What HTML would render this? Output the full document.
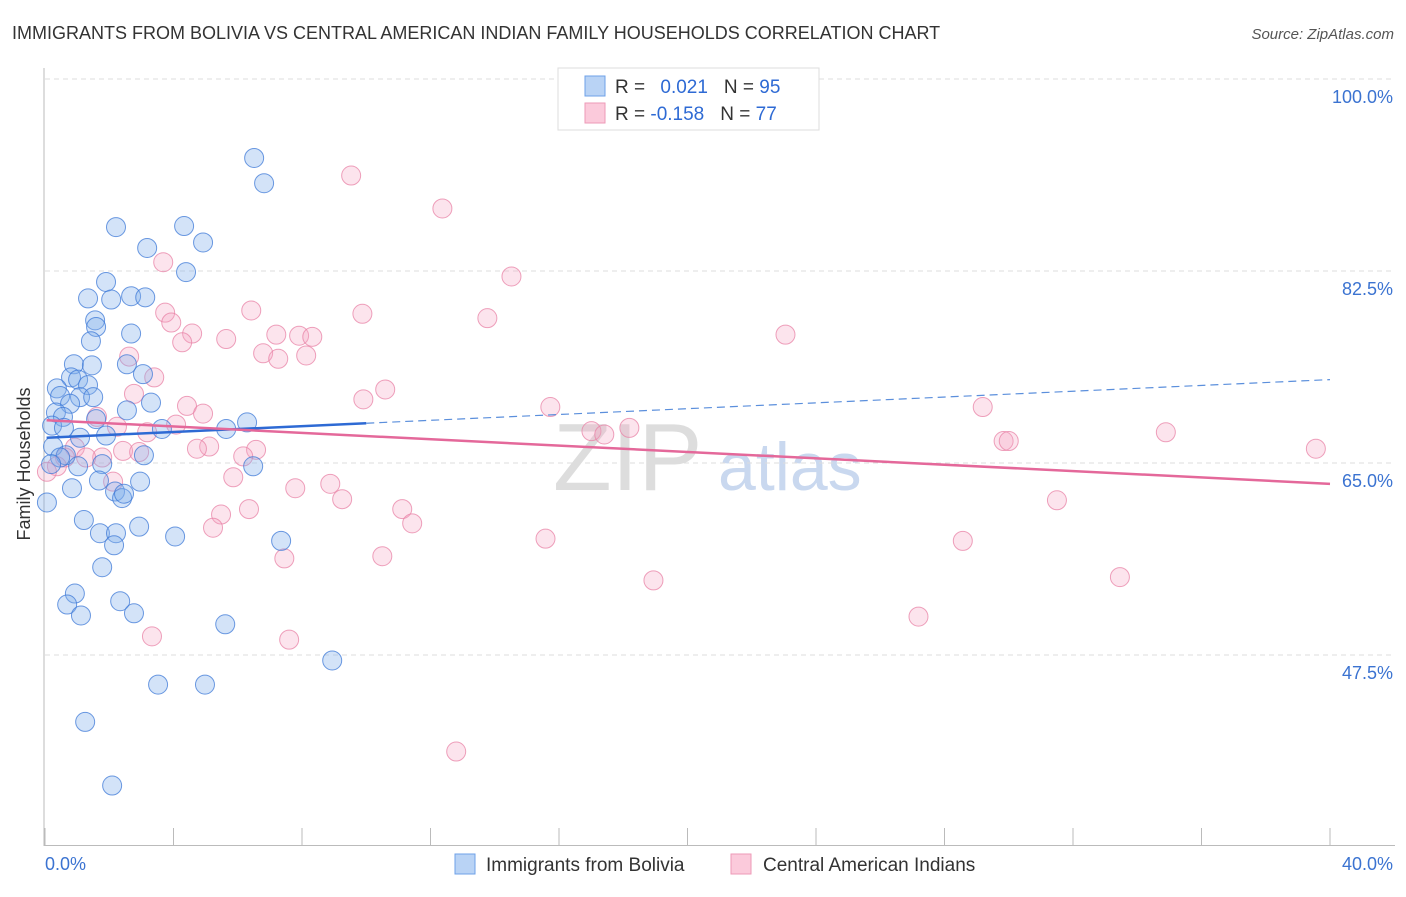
<!DOCTYPE html>
<html><head><meta charset="utf-8"><style>
body{margin:0;background:#fff;font-family:"Liberation Sans",sans-serif;}
svg text{font-family:"Liberation Sans",sans-serif;}
</style></head><body>
<svg id="chart" width="1406" height="892" xmlns="http://www.w3.org/2000/svg">
<text x="12" y="39" font-size="18" fill="#333">IMMIGRANTS FROM BOLIVIA VS CENTRAL AMERICAN INDIAN FAMILY HOUSEHOLDS CORRELATION CHART</text>
<text x="1394" y="39" font-size="15" fill="#555" font-style="italic" text-anchor="end">Source: ZipAtlas.com</text>
<g>
<text x="553" y="490" font-size="96" fill="#ddd" font-family="Liberation Serif">ZIP</text>
<text x="718" y="490" font-size="68" fill="#c9d8ef">atlas</text>
</g>
<g id="grid"></g>
<g id="axes"></g>
<g id="marks"></g>
<g>
<rect x="558" y="68" width="261" height="62" fill="#fff" stroke="#ddd"/>
<rect x="585" y="76" width="20" height="20" fill="#b9d3f5" stroke="#6ea0e8"/>
<rect x="585" y="103" width="20" height="20" fill="#fbcadb" stroke="#ee9ab7"/>
<text x="615" y="93" font-size="19" fill="#333">R = <tspan fill="#2e6ad4" dx="10">0.021</tspan><tspan dx="16" fill="#333">N = </tspan><tspan fill="#2e6ad4">95</tspan></text>
<text x="615" y="120" font-size="19" fill="#333">R = <tspan fill="#2e6ad4">-0.158</tspan><tspan dx="16" fill="#333">N = </tspan><tspan fill="#2e6ad4">77</tspan></text>
</g>
<g>
<rect x="455" y="854" width="20" height="20" fill="#b9d3f5" stroke="#6ea0e8"/>
<text x="486" y="871" font-size="19" fill="#333">Immigrants from Bolivia</text>
<rect x="731" y="854" width="20" height="20" fill="#fbcadb" stroke="#ee9ab7"/>
<text x="763" y="871" font-size="19" fill="#333">Central American Indians</text>
</g>
<text x="22" y="456" font-size="18" fill="#333" transform="rotate(-90 30 456)" text-anchor="middle">Family Households</text>
</svg>
<script>
const yTicks=[100,82.5,65,47.5];
const yTickLabels=["100.0%","82.5%","65.0%","47.5%"];
const xTickCount=10;
const xLabels=["0.0%","40.0%"];
const blueX=[6.51,6.82,2.21,4.33,3.18,4.92,4.39,1.90,1.34,2.06,2.68,3.12,1.56,1.59,2.68,1.43,0.90,1.46,2.55,3.05,0.81,1.03,0.37,1.34,0.47,1.09,1.50,0.78,3.30,0.34,0.56,1.59,2.55,0.22,0.59,6.29,5.64,3.64,1.90,1.09,0.25,0.65,0.47,3.08,1.03,1.78,0.19,6.48,1.68,0.84,2.96,2.18,2.40,2.46,0.06,1.21,2.93,1.71,2.21,4.05,7.35,2.15,1.78,0.93,0.69,2.34,2.77,1.12,5.61,8.94,3.52,4.98,1.25,2.09];
const blueY=[92.8,90.5,86.5,86.6,84.6,85.1,82.4,81.5,80.0,79.9,80.2,80.1,78.0,77.4,76.8,76.1,74.0,73.9,74.0,73.1,72.8,72.6,71.8,72.1,71.1,71.0,71.0,70.4,70.5,69.6,69.2,69.0,69.8,68.4,68.2,68.7,68.1,68.1,67.5,67.3,66.5,65.7,65.5,65.7,64.7,64.9,64.9,64.7,63.4,62.7,63.3,62.4,61.8,62.2,61.4,59.8,59.2,58.6,58.6,58.3,57.9,57.5,55.5,53.1,52.1,52.4,51.3,51.1,50.3,47.0,44.8,44.8,41.4,35.6];
const pinkX=[9.53,12.37,3.68,14.52,6.42,9.88,3.74,3.93,13.77,4.58,4.27,5.64,7.20,7.91,8.32,23.05,6.79,8.13,7.26,2.62,3.40,10.59,2.77,9.91,4.42,15.73,29.19,4.92,1.62,4.08,3.18,2.24,17.01,17.41,18.19,34.89,29.84,30.0,0.93,5.11,4.73,2.43,6.57,2.93,39.56,0.62,6.17,1.78,1.28,0.37,0.06,5.86,2.12,8.88,7.79,9.25,31.5,11.12,6.35,5.48,11.43,5.23,15.58,28.57,10.50,7.45,18.94,33.46,27.19,3.33,7.60,12.80];
const pinkY=[91.2,88.2,83.3,82.0,78.9,78.6,78.7,77.8,78.2,76.8,76.0,76.3,76.7,76.6,76.5,76.7,75.0,74.8,74.5,74.7,72.8,71.7,71.3,70.8,70.2,70.1,70.1,69.5,69.2,68.5,67.8,68.3,67.9,67.6,68.2,67.8,67.0,67.0,66.4,66.5,66.3,66.1,66.2,66.0,66.3,65.5,65.6,65.5,65.5,64.7,64.2,63.7,63.3,63.1,62.7,61.7,61.6,60.8,60.8,60.3,59.5,59.1,58.1,57.9,56.5,56.3,54.3,54.6,51.0,49.2,48.9,38.7];
const blueTrend=[67.3,72.6];
const blueSolidEnd=10;
const pinkTrend=[68.9,63.1];
const xScale=v=>45+v*32.125;
const yScale=v=>79+(100-v)*10.971;
const NS="http://www.w3.org/2000/svg";
function mk(t,a,p){const e=document.createElementNS(NS,t);for(const k in a)e.setAttribute(k,a[k]);p.appendChild(e);return e;}
const grid=document.getElementById('grid'),axes=document.getElementById('axes'),marks=document.getElementById('marks');
yTicks.forEach((t,i)=>{
 const y=yScale(t);
 const l=mk('line',{x1:45,x2:1395,y1:y,y2:y,stroke:'#ddd','stroke-dasharray':'5,4'},grid);
 
 
 const tx=mk('text',{x:1393,y:y+24,'font-size':18,fill:'#3b73d1','text-anchor':'end'},axes);
 tx.textContent=yTickLabels[i];
 
 
});
const al=mk('line',{x1:44,x2:44,y1:68,y2:846,stroke:'#bbb'},axes);


const bl=mk('line',{x1:44,x2:1395,y1:845.5,y2:845.5,stroke:'#bbb'},axes);


for(let i=0;i<=xTickCount;i++){
 const x=xScale(i*4);
 const t=mk('line',{x1:x,x2:x,y1:828,y2:845,stroke:'#bbb'},axes);
 
 
}
const xl0=mk('text',{x:45,y:870,'font-size':18,fill:'#3b73d1'},axes);
xl0.textContent=xLabels[0];


const xl1=mk('text',{x:1393,y:870,'font-size':18,fill:'#3b73d1','text-anchor':'end'},axes);
xl1.textContent=xLabels[1];


pinkX.forEach((v,i)=>{
 const c=mk('circle',{cx:xScale(v),cy:yScale(pinkY[i]),r:9.5,fill:'rgba(246,166,194,0.3)',stroke:'rgba(232,130,165,0.75)','stroke-width':1},marks);
 
 
});
blueX.forEach((v,i)=>{
 const c=mk('circle',{cx:xScale(v),cy:yScale(blueY[i]),r:9.5,fill:'rgba(130,175,235,0.35)',stroke:'rgba(60,120,215,0.75)','stroke-width':1},marks);
 
 
});
const bAt=x=>blueTrend[0]+(blueTrend[1]-blueTrend[0])*x/40;
const bs=mk('line',{x1:xScale(0.05),y1:yScale(bAt(0)),x2:xScale(blueSolidEnd),y2:yScale(bAt(blueSolidEnd)),stroke:'#2e6ad4','stroke-width':2.5},marks);


const bd=mk('line',{x1:xScale(blueSolidEnd),y1:yScale(bAt(blueSolidEnd)),x2:xScale(40),y2:yScale(bAt(40)),stroke:'#5b8fdc','stroke-width':1.2,'stroke-dasharray':'8,5'},marks);


const pt=mk('line',{x1:xScale(0.05),y1:yScale(pinkTrend[0]),x2:xScale(40),y2:yScale(pinkTrend[1]),stroke:'#e4689a','stroke-width':2.5},marks);


</script>
</body></html>
